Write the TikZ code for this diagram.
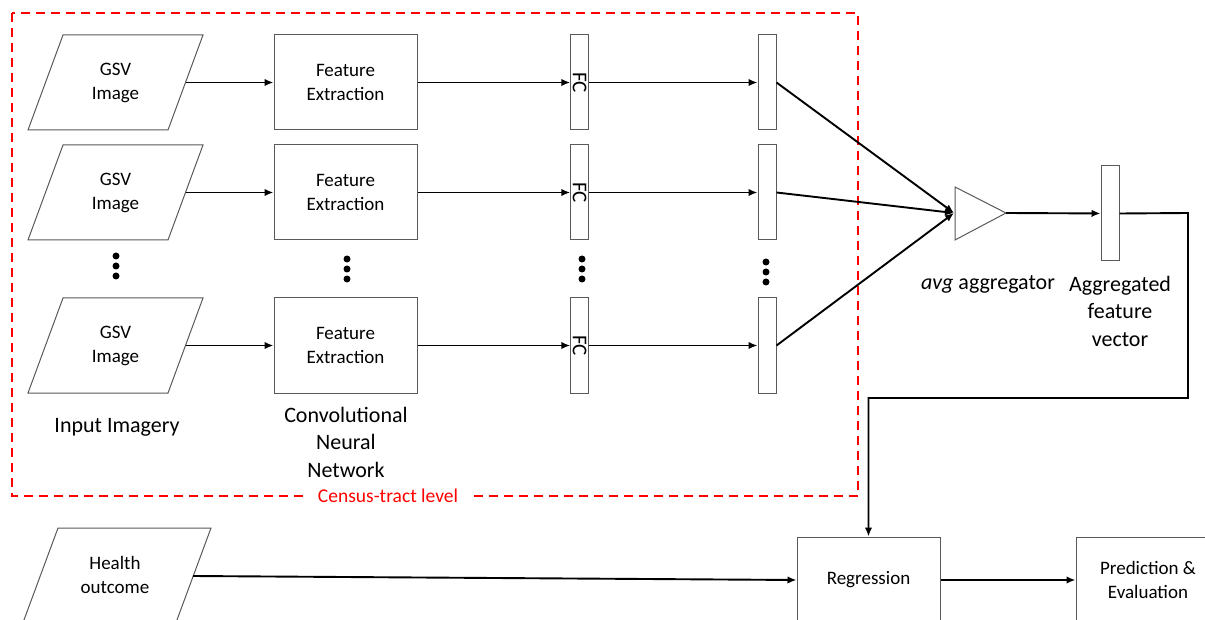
\documentclass[tikz,border=0pt]{standalone}
\usepackage{fontspec}
\setmainfont{Carlito}
\usetikzlibrary{arrows.meta}
\begin{document}
\begin{tikzpicture}[x=1pt,y=-1pt,
  box/.style={draw=black!65, line width=1pt, fill=white, align=center, font=\fontsize{19}{24}\selectfont, inner sep=0pt},
  shapeline/.style={draw=black!65, line width=1pt},
  btext/.style={align=center, font=\fontsize{19}{24}\selectfont, inner sep=0pt},
  lbl/.style={align=center, font=\fontsize{22}{27.5}\selectfont, inner sep=0pt},
  arr/.style={-{Latex[length=9pt,width=7.5pt]}, line width=1.9pt},
  dot/.style={circle, fill=black, inner sep=0pt, minimum size=7pt},
  census/.style={red, line width=1.8pt, dash pattern=on 9pt off 6pt}]
\useasboundingbox (0,0) rectangle (1205,620);

% dashed census-tract frame
\draw[census] (12,13) rectangle (858,496);
\node[fill=white, text=red, font=\fontsize{19.5}{23}\selectfont, inner xsep=13pt, inner ysep=3pt] (censuslbl) at (388,496) {Census-tract level};

% rows
\foreach \i/\cy in {1/82.5, 2/192.5, 3/345.5} {
  \draw[shapeline] (63,\cy-47.5) -- (203,\cy-47.5) -- (168,\cy+47.5) -- (28,\cy+47.5) -- cycle;
  \node[btext] (g\i) at (115.5,\cy) {GSV\\Image};
  \coordinate (ge\i) at (185.5,\cy);
  \node[box, minimum width=143pt, minimum height=95pt] (fe\i) at (345.5,\cy) {Feature\\Extraction};
  \node[box, minimum width=17.5pt, minimum height=95pt] (fc\i) at (579.5,\cy) {};
  \node[rotate=-90, font=\fontsize{21}{24}\selectfont, inner sep=0pt] (fct\i) at (fc\i) {FC};
  \node[box, minimum width=18pt, minimum height=95pt] (v\i) at (767,\cy) {};
  \draw[arr] (ge\i) -- (fe\i);
  \draw[arr] (fe\i) -- (fc\i);
  \draw[arr] (fc\i) -- (v\i);
}

% dots
\foreach \x/\y in {116/256, 347/259, 582/259, 766/262} {
  \node[dot] at (\x,\y) {};
  \node[dot] at (\x,\y+10) {};
  \node[dot] at (\x,\y+20) {};
}

% aggregator triangle
\draw[shapeline] (955,187) -- (1006,213) -- (955,240) -- cycle;
\coordinate (tin) at (954,213);
\coordinate (tout) at (1006,213);
\foreach \i in {1,2,3} { \draw[arr] (v\i.east) -- (tin); }

\node[box, minimum width=18pt, minimum height=95pt] (agg) at (1110,213.5) {};
\draw[arr] (tout) -- (agg);

% labels
\node[lbl] (avgl) at (988,284) {\textit{avg} aggregator};
\node[lbl] (aggl) at (1120,311) {Aggregated\\feature\\vector};
\node[lbl] (inl) at (117,427) {Input Imagery};
\node[lbl] (cnnl) at (346,442) {Convolutional\\Neural\\Network};

% bottom part
\draw[shapeline] (58,528) -- (211,528) -- (174,628) -- (21,628) -- cycle;
\node[btext] (health) at (115,575) {Health\\outcome};
\coordinate (he) at (193,576);
\node[box, minimum width=143pt, minimum height=86pt] (reg) at (868.5,580) {Regression};
\node[box, minimum width=144pt, minimum height=86pt] (pred) at (1148,580) {Prediction \&\\Evaluation};

\draw[arr] (he) -- (reg.west);
\draw[arr] (reg) -- (pred);
\draw[arr] (agg.east) -- (1188,213) -- (1188,398) -| (reg.north);
\end{tikzpicture}
\end{document}
